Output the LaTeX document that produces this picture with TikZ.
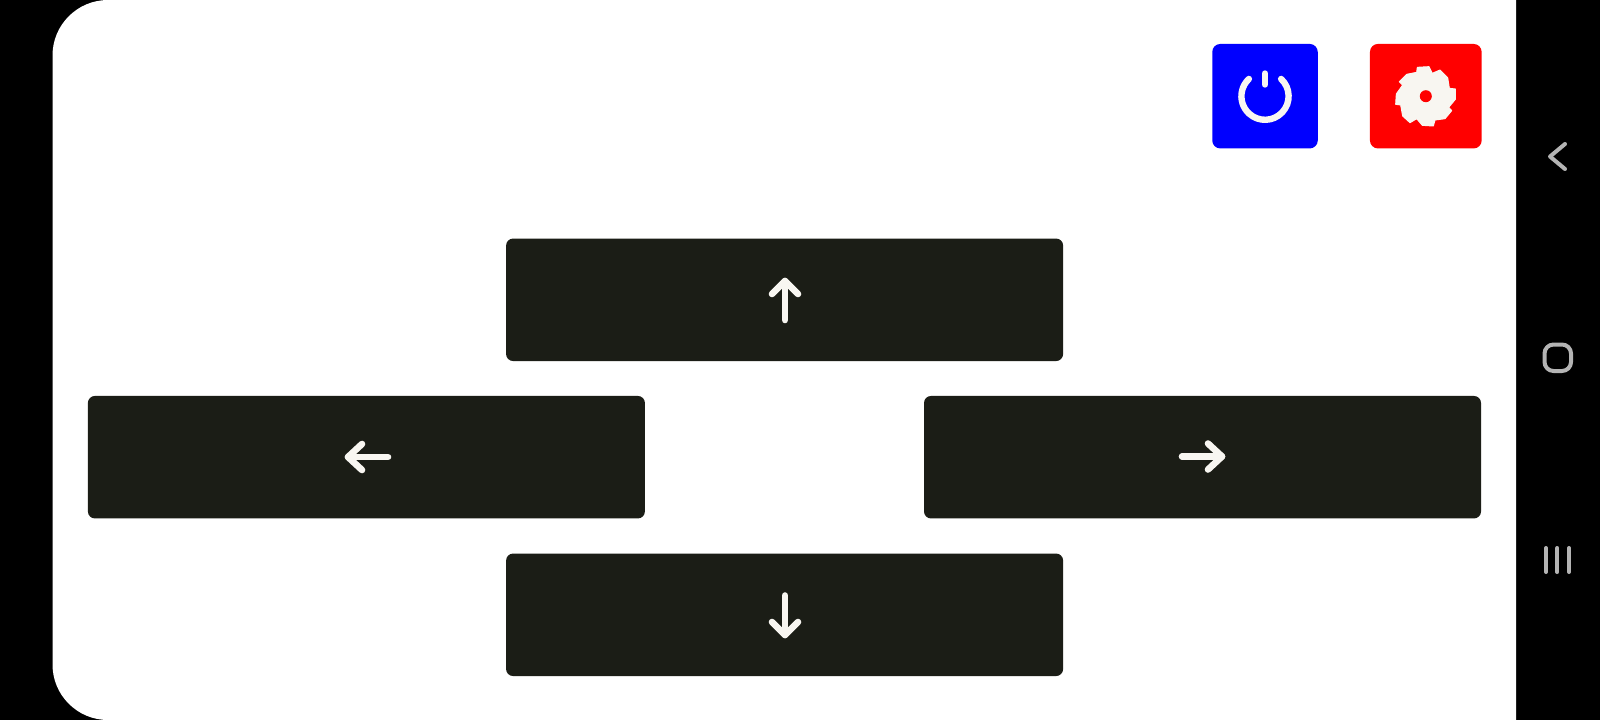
\documentclass[tikz,border=0pt]{standalone}
\definecolor{btndark}{HTML}{1B1D16}
\definecolor{iconwhite}{HTML}{F8F6F1}
\definecolor{navgrey}{HTML}{B4B4B4}
\tikzset{
  x=1pt,y=1pt,
  dirbtn/.style={fill=btndark,rounded corners=7pt,minimum width=557pt,minimum height=122.5pt,inner sep=0pt,outer sep=0pt},
  topbtn/.style={rounded corners=8pt,minimum height=104.5pt,inner sep=0pt,outer sep=0pt},
  arrowline/.style={draw=iconwhite,line width=6.6pt,line cap=round,line join=round},
  navline/.style={draw=navgrey,line width=4pt,line cap=round,line join=round},
}
\begin{document}
\begin{tikzpicture}
\useasboundingbox (0,0) rectangle (1600,-720);
\fill[black] (0,0) rectangle (1600,-720);
\fill[white] (1516,0) -- (108,0) arc[start angle=90,end angle=180,radius=55.5pt]
  -- (52.5,-664.5) arc[start angle=180,end angle=270,radius=55.5pt] -- (1516,-720) -- cycle;

% top buttons
\node[topbtn,fill=blue,minimum width=105.5pt] (power) at (1265,-96.2) {};
\node[topbtn,fill=red,minimum width=111.7pt] (saw) at (1425.8,-96.2) {};

% power icon
\draw[draw=iconwhite,line width=6.4pt,line cap=round]
  (power.center) ++(47:23.6pt) arc[start angle=47,end angle=-227,radius=23.6pt];
\draw[draw=iconwhite,line width=6.4pt,line cap=round] (1265,-73.5) -- (1265,-84.5);

% saw blade icon
\begin{scope}[shift={(1180,-20)},x=0.33333pt,y=0.33333pt]
\fill[iconwhite,draw=iconwhite,line width=1pt,line join=round] (712,-142) -- (747,-140) -- (757,-160) -- (780,-150) -- (803,-173)
  -- (808,-205) -- (826,-207) -- (826,-238) -- (806,-262) -- (815,-272) -- (795,-296)
  -- (765,-300) -- (760,-318) -- (727,-316) -- (710,-296) -- (690,-308) -- (668,-288)
  -- (662,-255) -- (647,-253) -- (649,-222) -- (668,-195) -- (658,-185) -- (680,-163)
  -- (710,-157) -- cycle;
\end{scope}
\fill[red] (saw.center) circle[radius=6pt];

% direction buttons
\node[dirbtn] (up) at (784.6,-299.8) {};
\node[dirbtn] (left) at (366.4,-457.2) {};
\node[dirbtn] (right) at (1202.5,-457.2) {};
\node[dirbtn] (down) at (784.6,-614.8) {};

% arrow icons
\draw[arrowline] (785,-320) -- (785,-281);
\draw[arrowline] (772,-294) -- (785,-281) -- (798,-294);
\draw[arrowline] (388,-457) -- (348,-457);
\draw[arrowline] (362,-444) -- (348,-457) -- (362,-470);
\draw[arrowline] (1182,-456.5) -- (1222,-456.5);
\draw[arrowline] (1208,-443.5) -- (1222,-456.5) -- (1208,-469.5);
\draw[arrowline] (785,-595.5) -- (785,-635);
\draw[arrowline] (772,-622) -- (785,-635) -- (798,-622);

% navigation bar
\draw[navline] (1565,-144) -- (1550,-156.5) -- (1565,-169);
\draw[navline,rounded corners=9pt] (1544.5,-344.5) rectangle (1571,-371);
\draw[navline] (1546,-548) -- (1546,-572);
\draw[navline] (1557.3,-548) -- (1557.3,-572);
\draw[navline] (1569,-548) -- (1569,-572);
\end{tikzpicture}
\end{document}
